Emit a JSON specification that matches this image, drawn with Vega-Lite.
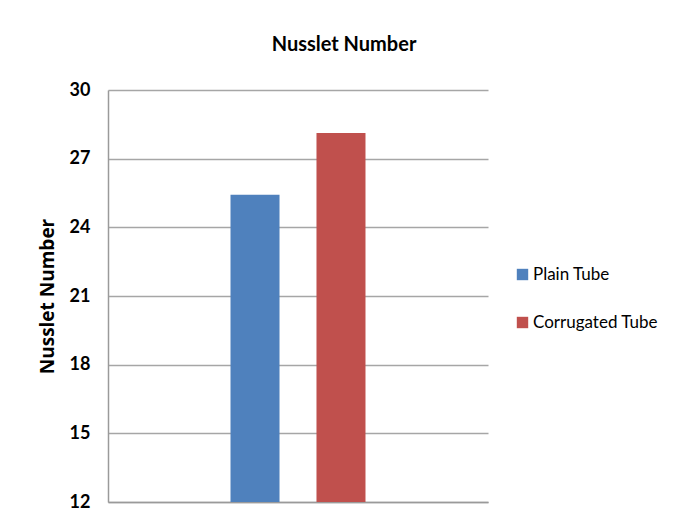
{
  "$schema": "https://vega.github.io/schema/vega-lite/v6.json",
  "autosize": "none",
  "width": 380,
  "height": 412,
  "padding": {"left": 108, "top": 90, "right": 193, "bottom": 26},
  "background": "white",
  "title": {
    "text": "Nusslet Number",
    "font": "Lato",
    "fontSize": 20,
    "fontWeight": "bold",
    "color": "#000000",
    "anchor": "middle",
    "dx": 46,
    "offset": 26
  },
  "data": {
    "values": [
      {"series": "Plain Tube", "value": 25.42},
      {"series": "Corrugated Tube", "value": 28.12}
    ]
  },
  "mark": {"type": "bar", "clip": true},
  "encoding": {
    "x": {
      "field": "series",
      "type": "nominal",
      "scale": {"domain": ["_a", "Plain Tube", "Corrugated Tube", "_b"], "paddingInner": 0.43, "paddingOuter": 0.425},
      "axis": {"labels": false, "ticks": false, "title": null, "domainColor": "#9a9a9a", "domainWidth": 1.5}
    },
    "y": {
      "field": "value",
      "type": "quantitative",
      "scale": {"domain": [12, 30], "zero": false, "nice": false},
      "axis": {
        "title": "Nusslet Number",
        "titleFont": "Open Sans",
        "titleFontSize": 19,
        "titleFontWeight": "bold",
        "titleColor": "#000000",
        "titlePadding": 12,
        "values": [12, 15, 18, 21, 24, 27, 30],
        "labelFont": "Lato",
        "labelFontSize": 18,
        "labelFontWeight": "bold",
        "labelColor": "#000000",
        "labelPadding": 18,
        "ticks": false,
        "domainColor": "#9a9a9a",
        "domainWidth": 1.5,
        "gridColor": "#a6a6a6",
        "gridWidth": 1.5
      }
    },
    "color": {
      "field": "series",
      "type": "nominal",
      "scale": {"domain": ["Plain Tube", "Corrugated Tube"], "range": ["#4F81BD", "#C0504D"]},
      "legend": {
        "title": null,
        "orient": "none",
        "legendX": 406,
        "legendY": 176,
        "symbolType": "square",
        "symbolSize": 130,
        "symbolStrokeWidth": 0,
        "labelFont": "Lato",
        "labelFontSize": 17,
        "labelColor": "#000000",
        "labelOffset": 2,
        "rowPadding": 30
      }
    }
  },
  "config": {
    "view": {"stroke": null}
  }
}
